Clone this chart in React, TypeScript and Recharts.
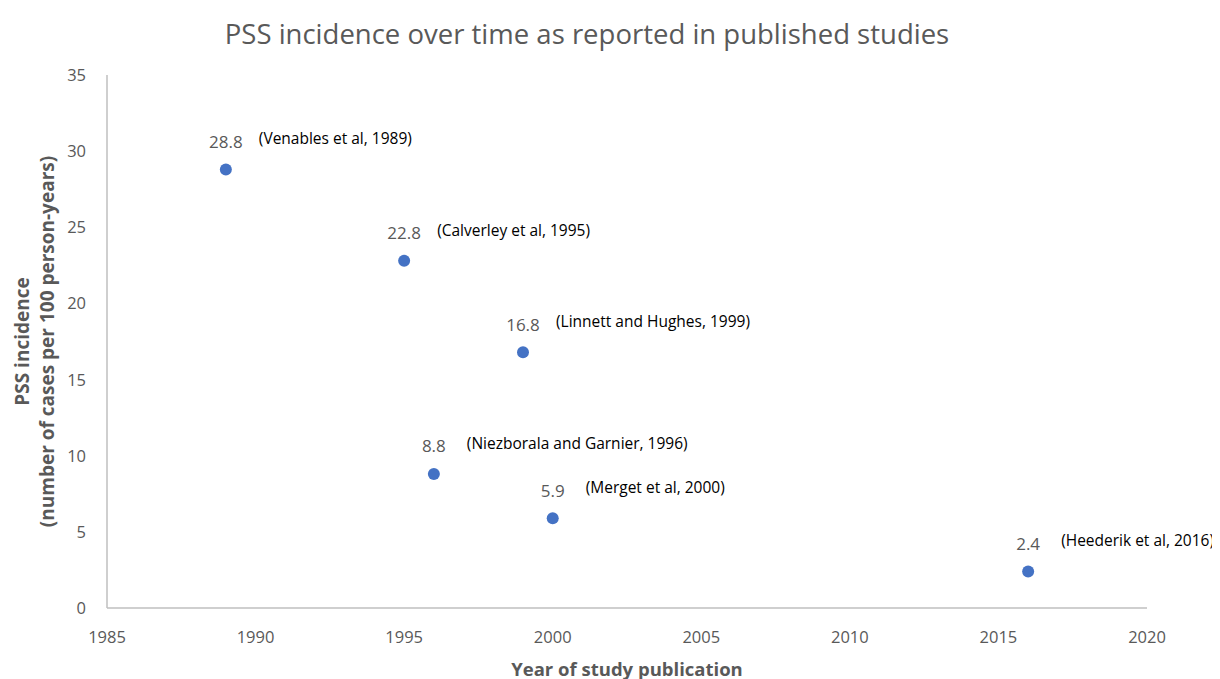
import { ScatterChart, Scatter, XAxis, YAxis } from "recharts"

const years = [1989, 1995, 1999, 1996, 2000, 2016]
const incidence = [28.8, 22.8, 16.8, 8.8, 5.9, 2.4]
const citations = [
  '(Venables et al, 1989)',
  '(Calverley et al, 1995)',
  '(Linnett and Hughes, 1999)',
  '(Niezborala and Garnier, 1996)',
  '(Merget et al, 2000)',
  '(Heederik et al, 2016)',
]
const xTicks = [1985, 1990, 1995, 2000, 2005, 2010, 2015, 2020]
const yTicks = [0, 5, 10, 15, 20, 25, 30, 35]

const FONT = '"Open Sans", sans-serif'
const GREY = '#595959'

const data = years.map((year, i) => ({
  year,
  value: incidence[i],
  cite: citations[i],
}))

function Dot(props: any) {
  const { cx, cy, payload } = props
  return (
    <g>
      <circle cx={cx} cy={cy} r={6} fill="#4472C4" />
      <text x={cx} y={cy - 21.5} textAnchor="middle" fontSize={17} fill={GREY} fontFamily={FONT}>
        {payload.value}
      </text>
      <text x={cx + 33} y={cy - 25} fontSize={15.5} fill="#000" fontFamily={FONT}>
        {payload.cite}
      </text>
    </g>
  )
}

function XTick(props: any) {
  const { x, y, payload } = props
  return (
    <text x={x} y={y} dy={35} textAnchor="middle" fontSize={16.5} fill={GREY} fontFamily={FONT}>
      {payload.value}
    </text>
  )
}

function YTick(props: any) {
  const { x, y, payload } = props
  return (
    <text x={x} y={y} dx={-21} dy={6} textAnchor="end" fontSize={16.5} fill={GREY} fontFamily={FONT}>
      {payload.value}
    </text>
  )
}

function YLabel(props: any) {
  const { viewBox } = props
  const cy = viewBox.y + viewBox.height / 2
  return (
    <g fontFamily={FONT} fontWeight="bold" fontSize={19} fill={GREY}>
      <text x={14} y={cy} transform={`rotate(-90 14 ${cy})`} textAnchor="middle" dominantBaseline="central">
        PSS incidence
      </text>
      <text x={39} y={cy} transform={`rotate(-90 39 ${cy})`} textAnchor="middle" dominantBaseline="central">
        (number of cases per 100 person-years)
      </text>
    </g>
  )
}

function XLabel(props: any) {
  const { viewBox } = props
  const cx = viewBox.x + viewBox.width / 2
  return (
    <text x={cx} y={660} textAnchor="middle" dominantBaseline="central" fontFamily={FONT} fontWeight="bold" fontSize={18.5} fill={GREY}>
      Year of study publication
    </text>
  )
}

export default function App() {
  return (
    <div style={{ position: 'relative', width: 1212, height: 671 }}>
      <div
        style={{
          position: 'absolute',
          left: 0,
          width: 1158,
          top: 8,
          textAlign: 'center',
          fontFamily: FONT,
          fontSize: 27.5,
          color: GREY,
          lineHeight: '36px',
        }}
      >
        PSS incidence over time as reported in published studies
      </div>
      <ScatterChart width={1212} height={671} margin={{ top: 67, right: 73, bottom: 0, left: 0 }}>
        <XAxis
          type="number"
          dataKey="year"
          domain={[1985, 2020]}
          ticks={xTicks}
          height={71}
          tickSize={0}
          tickMargin={0}
          tick={<XTick />}
          stroke="#bfbfbf"
          strokeWidth={1.5}
          label={<XLabel />}
        />
        <YAxis
          type="number"
          dataKey="value"
          domain={[0, 35]}
          ticks={yTicks}
          width={99}
          tickSize={0}
          tickMargin={0}
          tick={<YTick />}
          stroke="#bfbfbf"
          strokeWidth={1.5}
          label={<YLabel />}
        />
        <Scatter data={data} shape={<Dot />} isAnimationActive={false} />
      </ScatterChart>
    </div>
  )
}
